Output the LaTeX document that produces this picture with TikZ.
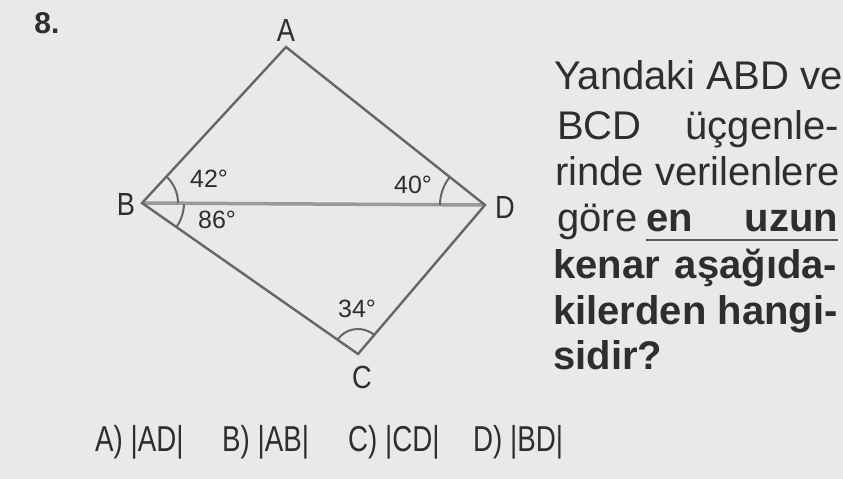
\documentclass[tikz,border=0pt]{standalone}
\usepackage{fontspec}
\setmainfont{Liberation Sans}
\newfontfamily\cond[FakeStretch=0.85]{Liberation Sans}
\newfontfamily\condans[FakeStretch=0.77]{Liberation Sans}
\usetikzlibrary{calc}
\definecolor{bg}{HTML}{E9E9E9}
\definecolor{ink}{HTML}{2E2E2E}
\definecolor{edge}{HTML}{666666}
\definecolor{diag}{HTML}{999999}
\begin{document}
\begin{tikzpicture}[x=1pt,y=1pt,
  side/.style={draw=edge,line width=2.4pt},
  midline/.style={draw=diag,line width=3.5pt},
  anglearc/.style={draw=edge,line width=2pt},
  vlabel/.style={inner sep=0pt,text=ink,font=\cond\fontsize{32}{32}\selectfont},
  alabel/.style={inner sep=0pt,text=ink,font=\fontsize{25}{25}\selectfont},
  para/.style={inner sep=0pt,anchor=base west,text=ink,font=\fontsize{40}{46}\selectfont},
  answer/.style={inner sep=0pt,anchor=base west,text=ink,font=\condans\fontsize{36}{36}\selectfont}]
\fill[bg] (0,0) rectangle (843,-479);
\useasboundingbox (0,0) rectangle (843,-479);
% vertices
\coordinate (A) at (286,-47);
\coordinate (B) at (142,-203);
\coordinate (C) at (358,-354);
\coordinate (D) at (485,-205);
% sides
\draw[midline] (B) -- (D);
\draw[side,line join=miter] (A) -- (B) -- (C) -- (D) -- cycle;
% angle arcs
\draw[anglearc] ($(B)+(0:36pt)$) arc[start angle=0,end angle=47,radius=36pt];
\draw[anglearc] ($(B)+(-2:42pt)$) arc[start angle=-2,end angle=-35,radius=42pt];
\draw[anglearc] ($(D)+(180:45pt)$) arc[start angle=180,end angle=141.5,radius=45pt];
\draw[anglearc] ($(C)+(145.4:25pt)$) arc[start angle=145.4,end angle=49.4,radius=25pt];
% vertex labels
\node[vlabel] (lA) at (286,-30) {A};
\node[vlabel] (lB) at (126,-204) {B};
\node[vlabel] (lC) at (362,-377) {C};
\node[vlabel] (lD) at (505,-207) {D};
% angle labels
\node[alabel] (a42) at (209,-179) {42°};
\node[alabel] (a86) at (217,-220) {86°};
\node[alabel] (a40) at (413,-185) {40°};
\node[alabel] (a34) at (357,-309) {34°};
% number
\node[inner sep=0pt,text=ink,font=\bfseries\fontsize{30}{30}\selectfont] (num) at (47,-23) {8.};
% paragraph
\node[para] (p1) at (554,-89) {Yandaki ABD ve};
\node[para] (p2) at (557,-139) {\makebox[282pt][s]{BCD\hfil üçgenle-}};
\node[para] (p3) at (555,-185) {rinde verilenlere};
\node[para] (p4) at (557,-231) {göre};
\node[para,font=\bfseries\fontsize{40}{46}\selectfont] (p4b) at (646,-231) {\makebox[192pt][s]{en\hfil uzun}};
\draw[draw=ink!80,line width=1.8pt] ($(p4b.base west)+(0,-9)$) -- ($(p4b.base east)+(0,-9)$);
\node[para,font=\bfseries\fontsize{40}{46}\selectfont] (p5) at (553,-278) {\makebox[284pt][s]{kenar\hfil aşağıda-}};
\node[para,font=\bfseries\fontsize{40}{46}\selectfont] (p6) at (553,-324) {kilerden hangi-};
\node[para,font=\bfseries\fontsize{40}{46}\selectfont] (p7) at (553,-369) {sidir?};
% answers
\node[answer] (ansA) at (95,-451) {A) |AD|};
\node[answer] (ansB) at (222,-451) {B) |AB|};
\node[answer] (ansC) at (348,-451) {C) |CD|};
\node[answer] (ansD) at (473,-451) {D) |BD|};
\end{tikzpicture}
\end{document}
